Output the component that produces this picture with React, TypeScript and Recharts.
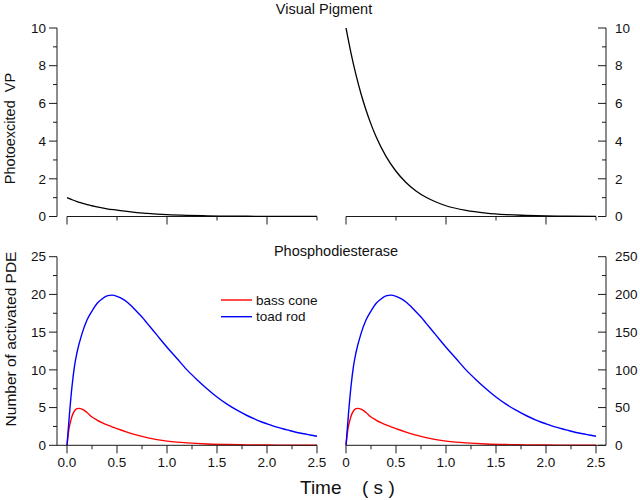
import React from 'react';
import { LineChart, Line, XAxis, YAxis, ReferenceLine, Legend } from 'recharts';

// ---------- data ----------
const vpTime = [0, 0.05, 0.1, 0.15, 0.2, 0.25, 0.3, 0.4, 0.5, 0.6, 0.7, 0.8, 0.9, 1.0, 1.2, 1.4, 1.6, 1.8, 2.0, 2.2, 2.5];
const vpLeftValues = [1.0, 0.89, 0.79, 0.71, 0.63, 0.57, 0.51, 0.41, 0.34, 0.27, 0.21, 0.17, 0.13, 0.1, 0.06, 0.035, 0.02, 0.012, 0.007, 0.004, 0.002];
const vpRightValues = [10, 8.67, 7.51, 6.51, 5.65, 4.9, 4.24, 3.19, 2.4, 1.8, 1.35, 1.02, 0.77, 0.57, 0.32, 0.18, 0.1, 0.06, 0.03, 0.02, 0.01];

const coneTime = [0, 0.02, 0.04, 0.06, 0.08, 0.1, 0.12, 0.15, 0.2, 0.25, 0.3, 0.35, 0.4, 0.45, 0.5, 0.6, 0.7, 0.8, 0.9, 1.0, 1.1, 1.2, 1.4, 1.6, 1.8, 2.0, 2.2, 2.5];
const coneLeftValues = [0, 2.2, 3.4, 4.2, 4.65, 4.85, 4.9, 4.8, 4.35, 3.75, 3.35, 3.0, 2.7, 2.45, 2.2, 1.75, 1.35, 1.02, 0.76, 0.56, 0.42, 0.32, 0.18, 0.1, 0.06, 0.03, 0.02, 0.01];
const coneRightValues = [0, 22, 34, 42, 46.5, 48.5, 49, 48, 43.5, 37.5, 33.5, 30, 27, 24.5, 22, 17.5, 13.5, 10.2, 7.6, 5.6, 4.2, 3.2, 1.8, 1.0, 0.6, 0.3, 0.2, 0.1];

const rodTime = [0, 0.025, 0.05, 0.075, 0.1, 0.15, 0.2, 0.25, 0.3, 0.35, 0.4, 0.45, 0.5, 0.55, 0.6, 0.65, 0.7, 0.75, 0.8, 0.9, 1.0, 1.1, 1.2, 1.3, 1.4, 1.5, 1.6, 1.7, 1.8, 1.9, 2.0, 2.1, 2.2, 2.3, 2.4, 2.5];
const rodLeftValues = [0, 4.2, 7.8, 10.5, 12.3, 14.8, 16.6, 17.8, 18.8, 19.4, 19.8, 19.9, 19.75, 19.45, 19.0, 18.4, 17.7, 17.0, 16.2, 14.6, 13.0, 11.5, 10.0, 8.7, 7.5, 6.4, 5.45, 4.65, 3.95, 3.35, 2.85, 2.4, 2.05, 1.7, 1.45, 1.2];
const rodRightValues = [0, 42, 78, 105, 123, 148, 166, 178, 188, 194, 198, 199, 197.5, 194.5, 190, 184, 177, 170, 162, 146, 130, 115, 100, 87, 75, 64, 54.5, 46.5, 39.5, 33.5, 28.5, 24, 20.5, 17, 14.5, 12];

const seriesNames = ['bass cone', 'toad rod'];

const xTicksBottom = [0, 0.25, 0.5, 0.75, 1, 1.25, 1.5, 1.75, 2, 2.25, 2.5];
const xMajorBottom = [0, 0.5, 1, 1.5, 2, 2.5];
const xLabelsLeft = ['0.0', '0.5', '1.0', '1.5', '2.0', '2.5'];
const xLabelsRight = ['0', '0.5', '1.0', '1.5', '2.0', '2.5'];
const xTicksTop = [0, 0.5, 1, 1.5, 2, 2.5];
const xMajorTop = [0, 1, 2];

const vpTicks = [0, 1, 2, 3, 4, 5, 6, 7, 8, 9, 10];
const vpMajor = [0, 2, 4, 6, 8, 10];
const pdeLeftTicks = [0, 2.5, 5, 7.5, 10, 12.5, 15, 17.5, 20, 22.5, 25];
const pdeLeftMajor = [0, 5, 10, 15, 20, 25];
const pdeRightTicks = [0, 25, 50, 75, 100, 125, 150, 175, 200, 225, 250];
const pdeRightMajor = [0, 50, 100, 150, 200, 250];

// ---------- helpers ----------
const rows = (t: number[], v: number[]) => t.map((x, i) => ({ t: x, v: v[i] }));
const FONT = '"Liberation Sans", Arial, Helvetica, sans-serif';
const AXIS = '#1a1a1a';
const RED = '#ff0000';
const BLUE = '#0000ff';
const TICK_FS = 13.5;

const findIdx = (arr: number[], v: number) => arr.findIndex((m) => Math.abs(m - v) < 1e-6);

const makeXTick = (majors: number[], labels: string[] | null) => (props: any) => {
  const { x, y, payload } = props;
  const idx = findIdx(majors, payload.value);
  const major = idx >= 0;
  const len = major ? 8 : 4;
  return (
    <g>
      <line x1={x} y1={y} x2={x} y2={y + len} stroke={AXIS} strokeWidth={1} />
      {major && labels ? (
        <text x={x} y={y + 21.5} textAnchor="middle" fontSize={TICK_FS} fontFamily={FONT} fill="#111">
          {labels[idx]}
        </text>
      ) : null}
    </g>
  );
};

const makeLeftYTick = (majors: number[]) => (props: any) => {
  const { x, y, payload } = props;
  const major = findIdx(majors, payload.value) >= 0;
  const len = major ? 8 : 4;
  return (
    <g>
      <line x1={x} y1={y} x2={x - len} y2={y} stroke={AXIS} strokeWidth={1} />
      {major ? (
        <text x={x - 11} y={y} dy={4.7} textAnchor="end" fontSize={TICK_FS} fontFamily={FONT} fill="#111">
          {String(payload.value)}
        </text>
      ) : null}
    </g>
  );
};

const makeRightYTick = (majors: number[]) => (props: any) => {
  const { x, y, payload } = props;
  const major = findIdx(majors, payload.value) >= 0;
  const len = major ? 8 : 4;
  return (
    <g>
      <line x1={x} y1={y} x2={x - len} y2={y} stroke={AXIS} strokeWidth={1} />
      {major ? (
        <text x={x + 9} y={y} dy={4.7} textAnchor="start" fontSize={TICK_FS} fontFamily={FONT} fill="#111">
          {String(payload.value)}
        </text>
      ) : null}
    </g>
  );
};

const LegendBox = () => (
  <svg width={110} height={36} style={{ overflow: 'visible', display: 'block' }}>
    <line x1={0} y1={8} x2={31} y2={8} stroke={RED} strokeWidth={1.4} />
    <text x={35} y={12.5} fontSize={13.5} fontFamily={FONT} fill="#111">{seriesNames[0]}</text>
    <line x1={0} y1={24.7} x2={31} y2={24.7} stroke={BLUE} strokeWidth={1.4} />
    <text x={35} y={29.2} fontSize={13.5} fontFamily={FONT} fill="#111">{seriesNames[1]}</text>
  </svg>
);

const abs = (left: number, top: number): React.CSSProperties => ({ position: 'absolute', left, top });

export default function App() {
  return (
    <div style={{ position: 'absolute', left: 0, top: 0, width: 640, height: 500, background: '#fff', fontFamily: FONT }}>
      {/* top-left: visual pigment, 1 */}
      <div style={abs(0, 0)}>
        <LineChart width={330} height={240} margin={{ top: 28, right: 13, bottom: 3.5, left: 17 }}>
          <XAxis
            type="number"
            dataKey="t"
            domain={[0, 2.5]}
            ticks={xTicksTop}
            interval={0}
            padding={{ left: 10, right: 0 }}
            height={20}
            axisLine={false}
            tickLine={false}
            tickSize={0}
            tickMargin={0}
            tick={makeXTick(xMajorTop, null)}
          />
          <YAxis
            type="number"
            domain={[0, 10]}
            ticks={vpTicks}
            interval={0}
            width={40}
            axisLine={{ stroke: AXIS, strokeWidth: 1 }}
            tickLine={false}
            tickSize={0}
            tickMargin={0}
            tick={makeLeftYTick(vpMajor)}
          />
          <ReferenceLine segment={[{ x: 0, y: 0 }, { x: 2.5, y: 0 }]} stroke={AXIS} strokeWidth={1} ifOverflow="visible" />
          <Line data={rows(vpTime, vpLeftValues)} dataKey="v" type="monotone" stroke="#000" strokeWidth={1.3} dot={false} activeDot={false} isAnimationActive={false} />
        </LineChart>
      </div>

      {/* top-right: visual pigment, 10 */}
      <div style={abs(330, 0)}>
        <LineChart width={310} height={240} margin={{ top: 28, right: 0, bottom: 3.5, left: 16 }}>
          <XAxis
            type="number"
            dataKey="t"
            domain={[0, 2.5]}
            ticks={xTicksTop}
            interval={0}
            padding={{ left: 0, right: 10 }}
            height={20}
            axisLine={false}
            tickLine={false}
            tickSize={0}
            tickMargin={0}
            tick={makeXTick(xMajorTop, null)}
          />
          <YAxis
            type="number"
            orientation="right"
            domain={[0, 10]}
            ticks={vpTicks}
            interval={0}
            width={34}
            axisLine={{ stroke: AXIS, strokeWidth: 1 }}
            tickLine={false}
            tickSize={0}
            tickMargin={0}
            tick={makeRightYTick(vpMajor)}
          />
          <ReferenceLine segment={[{ x: 0, y: 0 }, { x: 2.5, y: 0 }]} stroke={AXIS} strokeWidth={1} ifOverflow="visible" />
          <Line data={rows(vpTime, vpRightValues)} dataKey="v" type="monotone" stroke="#000" strokeWidth={1.3} dot={false} activeDot={false} isAnimationActive={false} />
        </LineChart>
      </div>

      {/* bottom-left: PDE, 1 */}
      <div style={abs(0, 240)}>
        <LineChart width={330} height={260} margin={{ top: 16.7, right: 13, bottom: 24.7, left: 17 }}>
          <XAxis
            type="number"
            dataKey="t"
            domain={[0, 2.5]}
            ticks={xTicksBottom}
            interval={0}
            padding={{ left: 10, right: 0 }}
            height={30}
            axisLine={{ stroke: AXIS, strokeWidth: 1 }}
            tickLine={false}
            tickSize={0}
            tickMargin={0}
            tick={makeXTick(xMajorBottom, xLabelsLeft)}
          />
          <YAxis
            type="number"
            domain={[0, 25]}
            ticks={pdeLeftTicks}
            interval={0}
            width={40}
            axisLine={{ stroke: AXIS, strokeWidth: 1 }}
            tickLine={false}
            tickSize={0}
            tickMargin={0}
            tick={makeLeftYTick(pdeLeftMajor)}
          />
          <Line name={seriesNames[0]} data={rows(coneTime, coneLeftValues)} dataKey="v" type="monotone" stroke={RED} strokeWidth={1.4} dot={false} activeDot={false} isAnimationActive={false} />
          <Line name={seriesNames[1]} data={rows(rodTime, rodLeftValues)} dataKey="v" type="monotone" stroke={BLUE} strokeWidth={1.4} dot={false} activeDot={false} isAnimationActive={false} />
          <Legend
            layout="horizontal"
            verticalAlign="middle"
            align="center"
            content={() => <LegendBox />}
            wrapperStyle={{ position: 'absolute', left: 221, top: 52.3, width: 110, height: 36 }}
          />
        </LineChart>
      </div>

      {/* bottom-right: PDE, 10 */}
      <div style={abs(330, 240)}>
        <LineChart width={310} height={260} margin={{ top: 16.7, right: 0, bottom: 24.7, left: 16 }}>
          <XAxis
            type="number"
            dataKey="t"
            domain={[0, 2.5]}
            ticks={xTicksBottom}
            interval={0}
            padding={{ left: 0, right: 10 }}
            height={30}
            axisLine={{ stroke: AXIS, strokeWidth: 1 }}
            tickLine={false}
            tickSize={0}
            tickMargin={0}
            tick={makeXTick(xMajorBottom, xLabelsRight)}
          />
          <YAxis
            type="number"
            orientation="right"
            domain={[0, 250]}
            ticks={pdeRightTicks}
            interval={0}
            width={34}
            axisLine={{ stroke: AXIS, strokeWidth: 1 }}
            tickLine={false}
            tickSize={0}
            tickMargin={0}
            tick={makeRightYTick(pdeRightMajor)}
          />
          <Line data={rows(coneTime, coneRightValues)} dataKey="v" type="monotone" stroke={RED} strokeWidth={1.4} dot={false} activeDot={false} isAnimationActive={false} />
          <Line data={rows(rodTime, rodRightValues)} dataKey="v" type="monotone" stroke={BLUE} strokeWidth={1.4} dot={false} activeDot={false} isAnimationActive={false} />
        </LineChart>
      </div>

      {/* titles and axis labels */}
      <svg width={640} height={500} style={{ position: 'absolute', left: 0, top: 0, pointerEvents: 'none' }}>
        <text x={324} y={13.5} textAnchor="middle" fontSize={14.5} fontFamily={FONT} fill="#111">Visual Pigment</text>
        <text x={336} y={256} textAnchor="middle" fontSize={14.5} fontFamily={FONT} fill="#111">Phosphodiesterase</text>
        <text x={14.5} y={128.5} transform="rotate(-90 14.5 128.5)" textAnchor="middle" fontSize={14.5} fontFamily={FONT} fill="#111" style={{ whiteSpace: 'pre' }}>Photoexcited  VP</text>
        <text x={15.5} y={339} transform="rotate(-90 15.5 339)" textAnchor="middle" fontSize={15.5} fontFamily={FONT} fill="#111">Number of activated PDE</text>
        <text x={300} y={494} fontSize={19} fontFamily={FONT} fill="#111">Time</text>
        <text x={362} y={494} fontSize={19} fontFamily={FONT} fill="#111" style={{ whiteSpace: 'pre' }}>( s )</text>
      </svg>
    </div>
  );
}
